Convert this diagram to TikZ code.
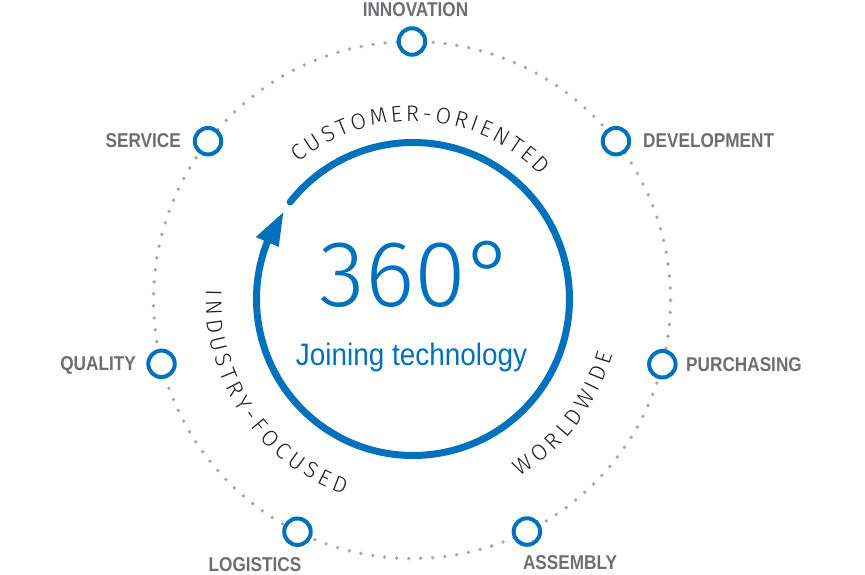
\documentclass[tikz,border=0pt]{standalone}
\usepackage{fontspec}
\usetikzlibrary{decorations.text}
\newfontfamily\lblfont[FakeStretch=0.86]{Liberation Sans}
\newfontfamily\condfont[FakeStretch=0.9]{Liberation Sans}
\newfontfamily\lightfont{Fira Sans Light}
\definecolor{brandblue}{HTML}{0071BC}
\definecolor{lblgray}{HTML}{6D6E71}
\definecolor{dotgray}{HTML}{A7A9AC}
\definecolor{textdark}{HTML}{231F20}
\begin{document}
\begin{tikzpicture}[x=1pt,y=1pt,
  ring/.style={circle, draw=brandblue, line width=4pt, fill=white, minimum size=26.5pt, inner sep=0pt},
  lbl/.style={text=lblgray, font=\lblfont\bfseries\fontsize{20}{24}\selectfont, inner sep=0pt},
  curvetext/.style={decorate, decoration={text along path, text={#1}, text align=fit to path,
     text color=textdark, raise=0pt}},
  ]
\useasboundingbox (0,0) rectangle (865,575);
\fill[white] (0,0) rectangle (865,575);
\coordinate (C) at (412,275);
\coordinate (C2) at (413,276);
% dotted orbit
\draw[dotgray, line width=3.8pt, line cap=round, dash pattern=on 0pt off 12.03pt] (C) circle[radius=258.5pt];
% rings
\node[ring] (innov)  at ([shift={(90:258.5pt)}]C) {};
\node[ring] (serv)   at ([shift={(142.1:258.5pt)}]C) {};
\node[ring] (devel)  at ([shift={(37.9:258.5pt)}]C) {};
\node[ring] (qual)   at ([shift={(194.3:258.5pt)}]C) {};
\node[ring] (purch)  at ([shift={(-14.4:258.5pt)}]C) {};
\node[ring] (logist) at ([shift={(243.7:258.5pt)}]C) {};
\node[ring] (assem)  at ([shift={(-63.6:258.5pt)}]C) {};
% labels
\node[lbl, anchor=center] (innovL)  at (415.5,565) {INNOVATION};
\node[lbl, anchor=east]   (servL)   at (181,434) {SERVICE};
\node[lbl, anchor=west]   (develL)  at (643,434.5) {DEVELOPMENT};
\node[lbl, anchor=east]   (qualL)   at (136,210) {QUALITY};
\node[lbl, anchor=west]   (purchL)  at (686,210) {PURCHASING};
\node[lbl, anchor=center] (logistL) at (255,10) {LOGISTICS};
\node[lbl, anchor=center] (assemL)  at (570,12) {ASSEMBLY};
% blue circular arrow
\draw[brandblue, line width=7pt, line cap=round] ([shift={(141.7:156.5pt)}]C2) arc[start angle=141.7, end angle=-202, radius=156.5pt];
\fill[brandblue] ([shift={(146.3:156pt)}]C2) -- ([shift={(158.5:169pt)}]C2) -- ([shift={(158.8:144pt)}]C2) -- cycle;
% centre text
\node[text=brandblue, font=\lightfont\fontsize{94}{100}\selectfont, inner sep=0pt, anchor=center] (deg) at (417.5,300.5) {360°};
\node[text=brandblue, font=\condfont\fontsize{31}{36}\selectfont, inner sep=0pt, anchor=base] (join) at (411.5,209) {Joining technology};
% curved texts
\path[curvetext={|\lightfont\fontsize{22.5}{26}\selectfont|CUSTOMER-ORIENTED}] ([shift={(130:178pt)}]C2) arc[start angle=130, end angle=44, radius=178pt];
\path[curvetext={|\lightfont\fontsize{22.5}{26}\selectfont|INDUSTRY-FOCUSED}] ([shift={(177.5:207pt)}]C2) arc[start angle=177.5, end angle=250.5, radius=207pt];
\path[curvetext={|\lightfont\fontsize{22.5}{26}\selectfont|WORLDWIDE}] ([shift={(-59:207pt)}]C2) arc[start angle=-59, end angle=-15.5, radius=207pt];
\end{tikzpicture}
\end{document}
